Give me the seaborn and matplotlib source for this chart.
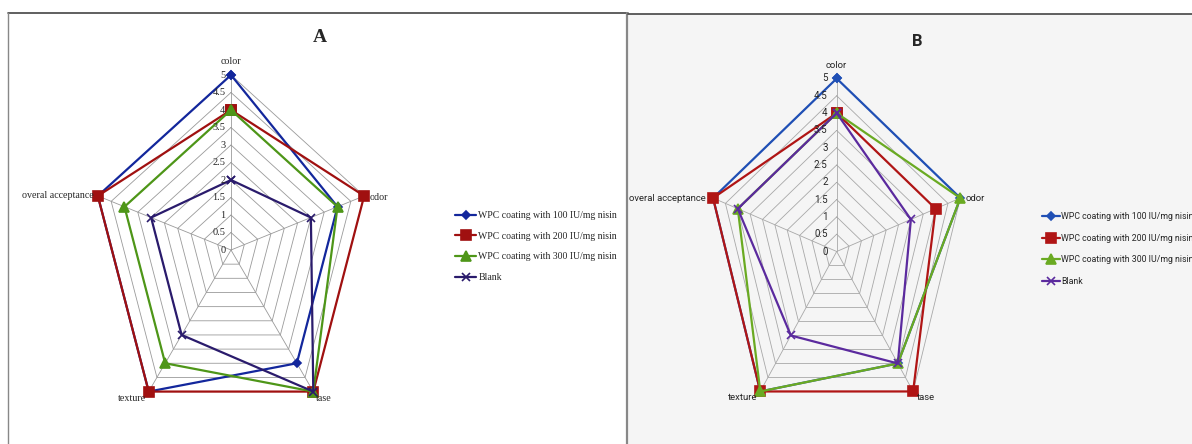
import numpy as np
import matplotlib
matplotlib.use("Agg")
import matplotlib.pyplot as plt
import seaborn as sns
from matplotlib.lines import Line2D
from matplotlib.patches import Rectangle

# data
attributes = ["color", "odor", "tase", "texture", "overal acceptance"]
series = ["WPC coating with 100 IU/mg nisin", "WPC coating with 200 IU/mg nisin",
          "WPC coating with 300 IU/mg nisin", "Blank"]
tick_values = [0, 0.5, 1, 1.5, 2, 2.5, 3, 3.5, 4, 4.5, 5]
tick_labels = ["0", "0.5", "1", "1.5", "2", "2.5", "3", "3.5", "4", "4.5", "5"]

# panel A
a_100 = [5, 4, 4, 5, 5]
a_200 = [4, 5, 5, 5, 5]
a_300 = [4, 4, 5, 4, 4]
a_blank = [2, 3, 5, 3, 3]
# panel B
b_100 = [5, 5, 4, 5, 5]
b_200 = [4, 4, 5, 5, 5]
b_300 = [4, 5, 4, 5, 4]
b_blank = [4, 3, 4, 3, 4]

W, H = 1192, 444
sns.set_style("white")
fig = plt.figure(figsize=(W / 100, H / 100), dpi=100)

angles = np.deg2rad([90, 18, -54, -126, 162])


def px(x, y):
    return x / W, 1 - y / H


# panel frames
fig.add_artist(Rectangle(px(628, 444), (W - 628) / W, (444 - 14) / H,
                         transform=fig.transFigure, facecolor="#f5f5f5",
                         edgecolor="none", zorder=-2))
for (x0, y0, x1, y1, c, lw) in [(8, 13, 628, 13, "#444444", 1.2),
                                (8, 13, 8, 444, "#888888", 1.0),
                                (627, 13, 627, 444, "#888888", 1.6),
                                (628, 14, 1192, 14, "#444444", 1.2)]:
    a, b = px(x0, y0)
    c2, d = px(x1, y1)
    fig.add_artist(Line2D([a, c2], [b, d], transform=fig.transFigure,
                          color=c, lw=lw, zorder=-1))


def radar(cx, cy, ux, uy, data, colors, markers, msizes, family, fs, tfs,
          grid_color, tick_off, label_offsets):
    hw, hh = 210, 210
    ax = fig.add_axes([(cx - hw) / W, 1 - (cy + hh) / H, 2 * hw / W, 2 * hh / H])
    ax.set_xlim(-hw / ux, hw / ux)
    ax.set_ylim(-hh / uy, hh / uy)
    ax.axis("off")
    # pentagon grid
    for r in tick_values[1:]:
        gx = np.append(r * np.cos(angles), r * np.cos(angles[0]))
        gy = np.append(r * np.sin(angles), r * np.sin(angles[0]))
        ax.plot(gx, gy, color=grid_color, lw=0.6, zorder=1)
    for a in angles:
        ax.plot([0, 5 * np.cos(a)], [0, 5 * np.sin(a)], color=grid_color, lw=0.6, zorder=1)
    # series
    for name, vals, c, m, ms in zip(series, data, colors, markers, msizes):
        v = np.append(vals, vals[0])
        xs = v * np.cos(np.append(angles, angles[0]))
        ys = v * np.sin(np.append(angles, angles[0]))
        sns.lineplot(x=xs, y=ys, sort=False, estimator=None, color=c, marker=m,
                     markersize=ms, mec=c, mew=1.2, linewidth=1.6, label=name, ax=ax)
    ax.get_legend().remove()
    for t, lab in zip(tick_values, tick_labels):
        ax.annotate(lab, (0, t), xytext=(tick_off, 0), textcoords="offset points",
                    ha="right", va="center", family=family, fontsize=tfs, zorder=5)
    for a, lab, (dx, dy, ha) in zip(angles, attributes, label_offsets):
        ax.annotate(lab, (5 * np.cos(a), 5 * np.sin(a)), xytext=(dx, dy),
                    textcoords="offset points", ha=ha, va="center",
                    family=family, fontsize=fs)
    return ax


serif = ["Liberation Serif", "DejaVu Serif"]
sans = ["Roboto", "DejaVu Sans"]

ax_a = radar(231, 250, 28.0, 35.0, [a_100, a_200, a_300, a_blank],
             ["#13279c", "#a01010", "#4e9618", "#2a1b6c"],
             ["D", "s", "^", "x"], [4.5, 7, 7, 6], serif, 7.2, 7.5, "#9a9a9a", -4,
             [(0, 9.5, "center"), (4, -1, "left"), (2, -5, "left"),
              (-2, -5, "right"), (-3, 0, "right")])
ax_b = radar(836.7, 251.5, 26.0, 34.6, [b_100, b_200, b_300, b_blank],
             ["#1f4fb5", "#b01515", "#6aaa22", "#5b2a9e"],
             ["D", "s", "^", "x"], [4.5, 7, 7, 6], sans, 6.8, 7, "#a8a8a8", -6.5,
             [(0, 9, "center"), (4, 0, "left"), (3, -4, "left"),
              (-2, -4, "right"), (-5, 0, "right")])

fig.text(320 / W, 1 - 37 / H, "A", ha="center", va="center", fontsize=14,
         fontweight="bold", family=serif)
fig.text(917 / W, 1 - 41 / H, "B", ha="center", va="center", fontsize=12,
         fontweight="bold", family=sans)

h, l = ax_a.get_legend_handles_labels()
fig.legend(h, l, loc="upper left", bbox_to_anchor=px(455, 211), frameon=False,
           prop={"family": serif, "size": 7}, handlelength=2.2, handletextpad=0.2,
           labelspacing=1.2, borderpad=0, borderaxespad=0)
h, l = ax_b.get_legend_handles_labels()
fig.legend(h, l, loc="upper left", bbox_to_anchor=px(1042, 212), frameon=False,
           prop={"family": sans, "size": 6.3}, handlelength=2.0, handletextpad=0.2,
           labelspacing=1.45, borderpad=0, borderaxespad=0)

fig.savefig("out.png", dpi=100)
